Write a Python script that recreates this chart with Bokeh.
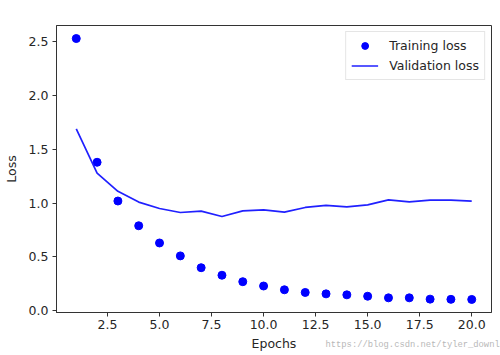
from bokeh.plotting import figure
from bokeh.models import (ColumnDataSource, FixedTicker, PrintfTickFormatter,
                          Range1d, Legend, LegendItem, Label)
from bokeh.embed import file_html
from bokeh.resources import INLINE

# ---- data ----
epochs = list(range(1, 21))
training_loss = [2.53, 1.38, 1.02, 0.79, 0.63, 0.51, 0.40, 0.33, 0.27, 0.23,
                 0.195, 0.17, 0.157, 0.148, 0.135, 0.12, 0.12, 0.108, 0.106, 0.105]
validation_loss = [1.69, 1.28, 1.11, 1.01, 0.95, 0.913, 0.926, 0.876, 0.928, 0.938,
                   0.917, 0.96, 0.98, 0.966, 0.984, 1.03, 1.012, 1.028, 1.028, 1.018]
series_names = ["Training loss", "Validation loss"]
x_ticks = [2.5, 5.0, 7.5, 10.0, 12.5, 15.0, 17.5, 20.0]
y_ticks = [0.0, 0.5, 1.0, 1.5, 2.0, 2.5]
x_label = "Epochs"
y_label = "Loss"
watermark = "https://blog.csdn.net/tyler_download"

FONT = "DejaVu Sans"
TXT = "#262626"
FS = "12.5px"

# matplotlib-like 5% margins
xmin, xmax = min(epochs), max(epochs)
xm = 0.05 * (xmax - xmin)
allv = training_loss + validation_loss
ymin, ymax = min(allv), max(allv)
ym = 0.05 * (ymax - ymin)

src = ColumnDataSource(dict(x=epochs, train=training_loss, val=validation_loss))

p = figure(width=500, height=353, output_backend="svg", toolbar_location=None,
           x_range=Range1d(xmin - xm, xmax + xm), y_range=Range1d(ymin - ym, ymax + ym),
           min_border_left=52, min_border_top=25, min_border_right=9, min_border_bottom=10,
           background_fill_color="white", border_fill_color="white")

r_train = p.scatter("x", "train", source=src, size=8, color="#0000ff", line_color="#0000ff")
r_val = p.line("x", "val", source=src, line_color="#2020ff", line_width=1.7)

p.xgrid.visible = False
p.ygrid.visible = False
p.outline_line_color = "#333333"
p.outline_line_width = 1
p.outline_line_alpha = 1

for ax, ticks in ((p.xaxis, x_ticks), (p.yaxis, y_ticks)):
    ax.ticker = FixedTicker(ticks=ticks)
    ax.formatter = PrintfTickFormatter(format="%.1f")
    ax.axis_line_color = "#333333"
    ax.major_tick_line_color = "#333333"
    ax.major_tick_out = 4
    ax.major_tick_in = 0
    ax.minor_tick_line_color = None
    ax.major_label_text_font = FONT
    ax.major_label_text_font_size = FS
    ax.major_label_text_color = TXT
    ax.axis_label_text_font = FONT
    ax.axis_label_text_font_size = FS
    ax.axis_label_text_font_style = "normal"
    ax.axis_label_text_color = TXT

p.xaxis.major_label_standoff = 3
p.xaxis.axis_label_standoff = 4
p.yaxis.major_label_standoff = 4
p.yaxis.axis_label_standoff = 7

p.xaxis.axis_label = x_label
p.yaxis.axis_label = y_label

legend = Legend(items=[LegendItem(label=series_names[0], renderers=[r_train]),
                       LegendItem(label=series_names[1], renderers=[r_val])],
                location="top_right", margin=6, padding=5, spacing=3,
                glyph_width=27, glyph_height=17, label_height=17, label_standoff=11,
                label_text_font=FONT, label_text_font_size=FS, label_text_color=TXT,
                border_line_color="#cccccc", border_line_width=1,
                background_fill_color="white", background_fill_alpha=0.8)
p.add_layout(legend)

# watermark: placed via the (otherwise empty) top side panel so it is not clipped to the frame
p.add_layout(Label(x=269, y=-319, x_units="screen", y_units="screen", text=watermark,
                   text_font="Liberation Mono", text_font_size="8.8px", text_color="#b8b8b8",
                   text_align="left", text_baseline="middle"), "above")

open("out.html", "w").write(file_html(p, INLINE))
